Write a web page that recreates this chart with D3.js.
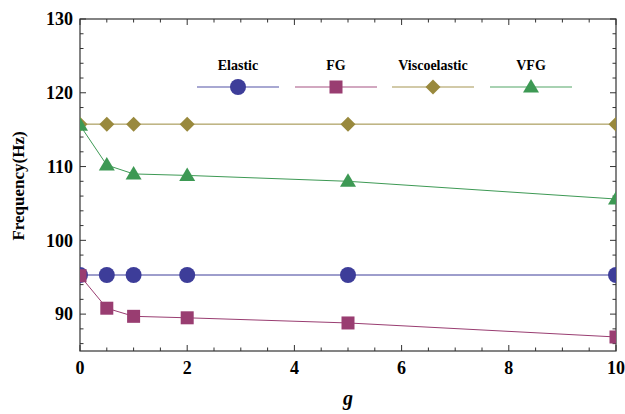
<!DOCTYPE html>
<html>
<head>
<meta charset="utf-8">
<script src="https://cdn.jsdelivr.net/npm/d3@7"></script>
<style>
  body { margin: 0; background: #fff; }
  svg text { font-family: "Liberation Serif", "Times New Roman", "DejaVu Serif", serif; }
</style>
</head>
<body>
<div id="chart"></div>
<script>
const gValues = [0, 0.5, 1, 2, 5, 10];
const elastic = [95.3, 95.3, 95.3, 95.3, 95.3, 95.3];
const fg = [95.2, 90.8, 89.7, 89.5, 88.8, 86.9];
const visco = [115.75, 115.75, 115.75, 115.75, 115.75, 115.75];
const vfg = [115.6, 110.2, 109.0, 108.8, 108.0, 105.6];
const seriesNames = ["Elastic", "FG", "Viscoelastic", "VFG"];
const xTicks = [0, 2, 4, 6, 8, 10];
const yTicks = [90, 100, 110, 120, 130];

const W = 625, H = 414;
const margin = { top: 19, right: 9, bottom: 63, left: 80 },
  width = W - margin.left - margin.right,
  height = H - margin.top - margin.bottom;

const FONT = "'Liberation Serif', 'Times New Roman', serif";

const svg = d3.select("#chart")
  .append("svg")
  .attr("width", W)
  .attr("height", H)
  .style("font-family", FONT);

const g = svg.append("g")
  .attr("transform", `translate(${margin.left},${margin.top})`);

const x = d3.scaleLinear().domain([0, 10]).range([0, width]);
const y = d3.scaleLinear().domain([85, 130]).range([height, 0]);

const colors = ["#3d3d99", "#993d71", "#99893d", "#3d9954"];
const data = [elastic, fg, visco, vfg];

// frame ticks (major + minor), drawn inward on all four sides
const xMinor = d3.range(0, 10.01, 0.5);
const yMinor = d3.range(86, 130.01, 2);
const tickCol = "#333";

const tg = g.append("g").attr("stroke", tickCol).attr("stroke-width", 1);
xMinor.forEach(v => {
  const L = xTicks.includes(v) ? 6 : 3.5;
  tg.append("line").attr("x1", x(v)).attr("x2", x(v)).attr("y1", height).attr("y2", height - L);
  tg.append("line").attr("x1", x(v)).attr("x2", x(v)).attr("y1", 0).attr("y2", L);
});
yMinor.forEach(v => {
  const L = yTicks.includes(v) ? 6 : 3.5;
  tg.append("line").attr("y1", y(v)).attr("y2", y(v)).attr("x1", 0).attr("x2", L);
  tg.append("line").attr("y1", y(v)).attr("y2", y(v)).attr("x1", width).attr("x2", width - L);
});

g.append("rect")
  .attr("width", width)
  .attr("height", height)
  .attr("fill", "none")
  .attr("stroke", tickCol)
  .attr("stroke-width", 1.2);

// tick labels
g.selectAll(".xl")
  .data(xTicks)
  .join("text")
  .attr("x", d => x(d))
  .attr("y", height + 23)
  .attr("text-anchor", "middle")
  .style("font-family", FONT)
  .style("font-size", "18px")
  .style("font-weight", "bold")
  .text(d => d);

g.selectAll(".yl")
  .data(yTicks)
  .join("text")
  .attr("x", -7)
  .attr("y", d => y(d))
  .attr("dy", "0.35em")
  .attr("text-anchor", "end")
  .style("font-family", FONT)
  .style("font-size", "18px")
  .style("font-weight", "bold")
  .text(d => d);

// axis titles
svg.append("text")
  .attr("text-anchor", "middle")
  .attr("transform", `translate(24,186)rotate(-90)`)
  .style("font-family", FONT)
  .style("font-size", "17px")
  .style("font-weight", "bold")
  .text("Frequency(Hz)");

svg.append("text")
  .attr("text-anchor", "middle")
  .attr("x", margin.left + width / 2)
  .attr("y", 405)
  .style("font-family", FONT)
  .style("font-size", "20px")
  .style("font-weight", "bold")
  .style("font-style", "italic")
  .text("g");

// markers
function marker(sel, i, s) {
  if (i === 0) {
    sel.append("circle").attr("r", 8 * s);
  } else if (i === 1) {
    sel.append("rect").attr("x", -6.5 * s).attr("y", -6.5 * s)
      .attr("width", 13 * s).attr("height", 13 * s);
  } else if (i === 2) {
    sel.append("path").attr("d", `M0,${-7.5 * s}L${7.5 * s},0L0,${7.5 * s}L${-7.5 * s},0Z`);
  } else {
    sel.append("path").attr("d", `M0,${-8 * s}L${8 * s},${5.5 * s}L${-8 * s},${5.5 * s}Z`);
  }
}

const line = d3.line().x((d, i) => x(gValues[i])).y(d => y(d));

svg.append("clipPath").attr("id", "clip")
  .append("rect").attr("width", width).attr("height", height);

const plot = g.append("g").attr("clip-path", "url(#clip)");

data.forEach((vals, i) => {
  plot.append("path")
    .datum(vals)
    .attr("fill", "none")
    .attr("stroke", colors[i])
    .attr("stroke-width", 1)
    .attr("d", line);
  vals.forEach((v, j) => {
    const m = plot.append("g")
      .attr("transform", `translate(${x(gValues[j])},${y(v)})`)
      .attr("fill", colors[i]);
    marker(m, i, 1);
  });
});

// legend
const legendX = [238, 336, 433, 531];
seriesNames.forEach((name, i) => {
  const lg = svg.append("g").attr("transform", `translate(${legendX[i]},0)`);
  lg.append("text")
    .attr("x", 0)
    .attr("y", 70)
    .attr("text-anchor", "middle")
    .style("font-family", FONT)
    .style("font-size", "14px")
    .style("font-weight", "bold")
    .text(name);
  lg.append("line")
    .attr("x1", -41).attr("x2", 41)
    .attr("y1", 87).attr("y2", 87)
    .attr("stroke", colors[i])
    .attr("stroke-opacity", 0.6)
    .attr("stroke-width", 1.5);
  const m = lg.append("g").attr("transform", "translate(0,87)").attr("fill", colors[i]);
  marker(m, i, 1);
});
</script>
</body>
</html>
